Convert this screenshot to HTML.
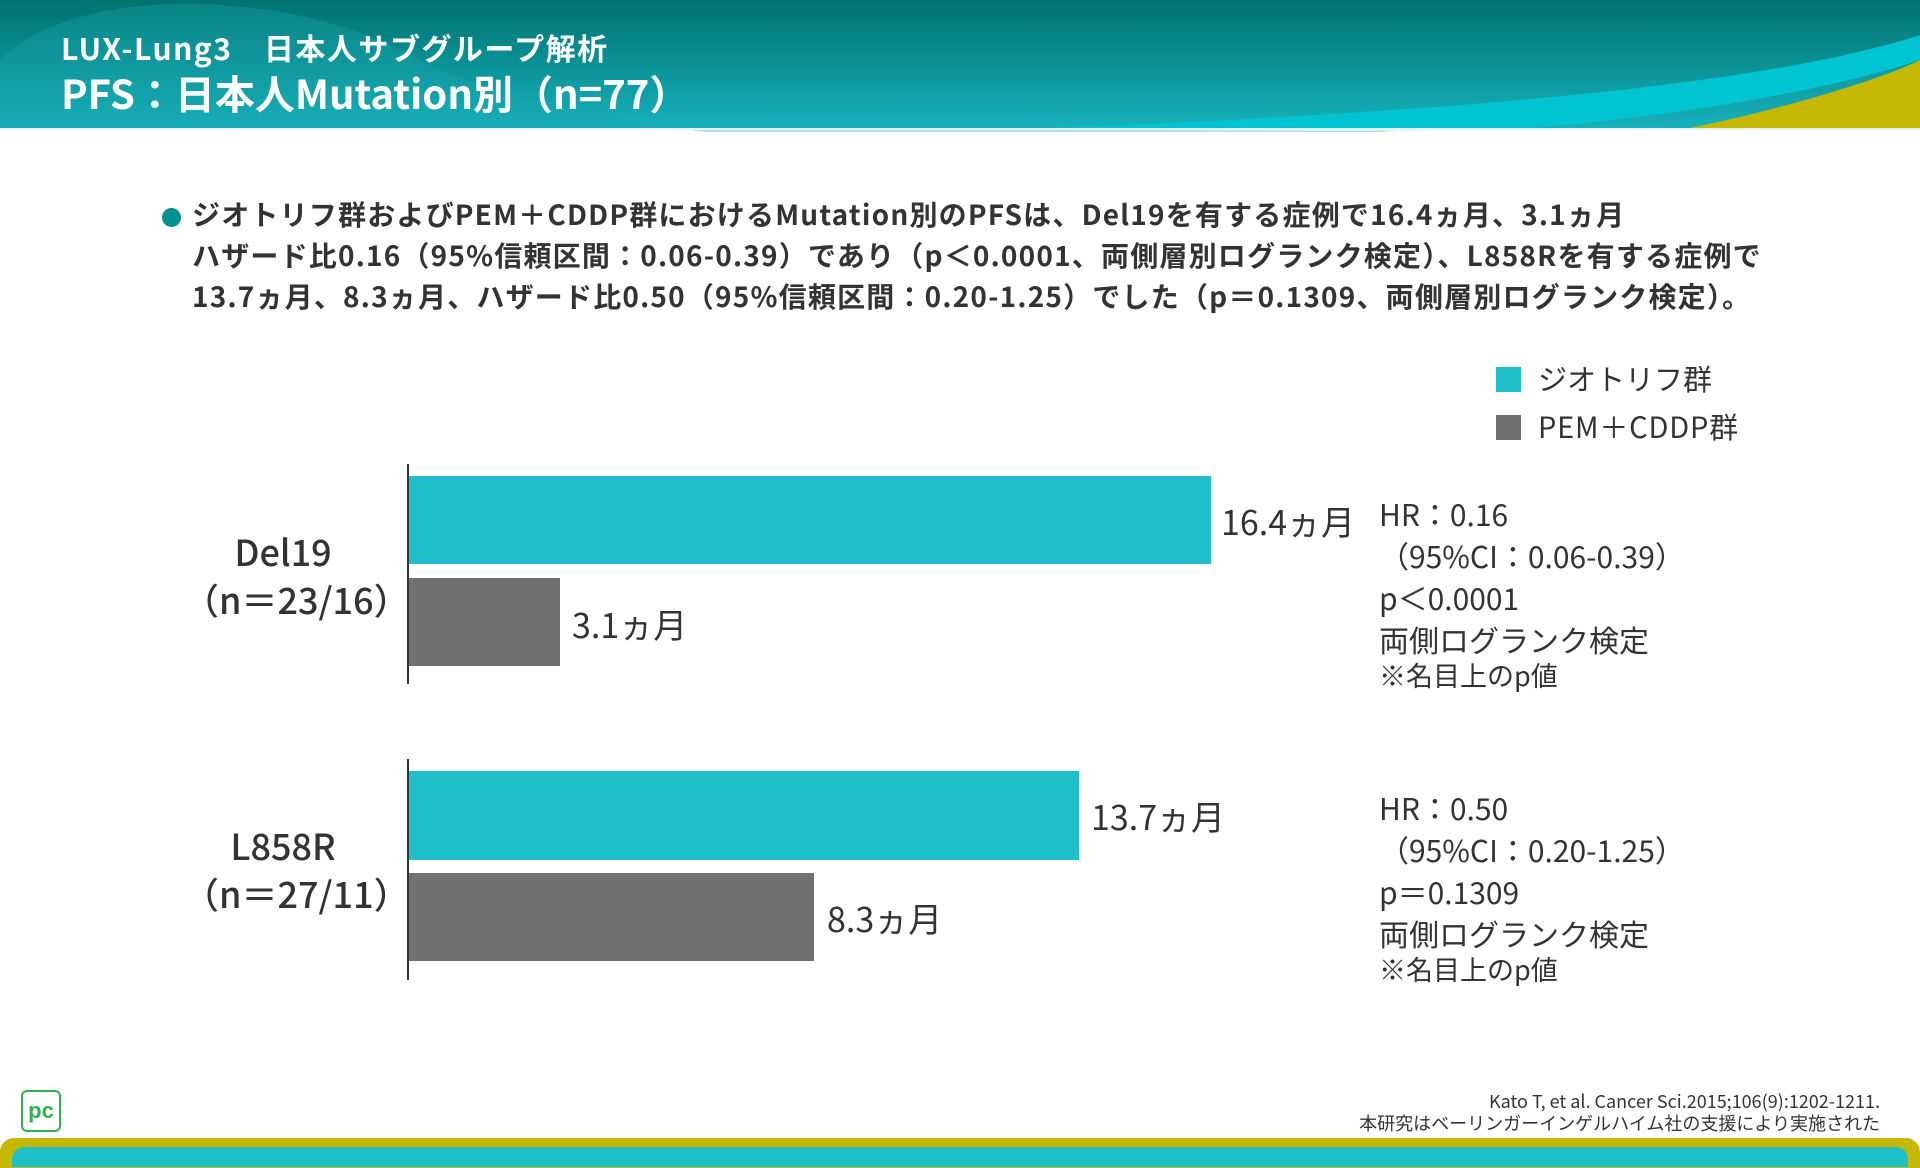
<!DOCTYPE html>
<html><head><meta charset="utf-8"><style>
body{margin:0;width:1920px;height:1160px;position:relative;overflow:hidden;background:#fff;font-family:"Noto Sans CJK JP","Liberation Sans",sans-serif;color:#333}
.a{position:absolute;white-space:nowrap;line-height:1}
.b{font-weight:bold}
</style></head><body>
<svg class="a" style="left:0;top:0" width="1920" height="132">
<defs><linearGradient id="g" x1="0" y1="0" x2="0" y2="1"><stop offset="0" stop-color="#00726f"/><stop offset="1" stop-color="#17b2bd"/></linearGradient></defs>
<rect width="1920" height="130" fill="url(#g)"/>
<path d="M0,60 C80,-20 300,-10 420,60 C700,200 1500,160 1920,40 L1920,70 C1700,140 1500,130 1100,130 L0,130Z" fill="#1aa6b0" opacity="0.35"/>
<path d="M1000,130 C1400,115 1750,90 1920,35 L1920,60 C1800,100 1600,125 1500,130Z" fill="#00c4d2"/>
<path d="M1680,130 C1780,110 1880,80 1920,60 L1920,130Z" fill="#c4b800"/>
<rect y="128" width="1920" height="2" fill="#e6f3f3"/>
</svg>
<div class="a b" style="left:61px;top:32px;font-size:30px;letter-spacing:1.5px;color:#fff">LUX-Lung3　日本人サブグループ解析</div>
<div class="a b" style="left:61px;top:72px;font-size:40px;color:#fff">PFS：日本人Mutation別（n=77）</div>

<div class="a" style="left:162px;top:208px;width:19px;height:19px;border-radius:50%;background:#00908f"></div>
<div class="a b" style="left:192px;top:194px;font-size:28px;letter-spacing:1.2px;line-height:41px">ジオトリフ群およびPEM＋CDDP群におけるMutation別のPFSは、Del19を有する症例で16.4ヵ月、3.1ヵ月<br>ハザード比0.16（95%信頼区間：0.06-0.39）であり（p＜0.0001、両側層別ログランク検定）、L858Rを有する症例で<br>13.7ヵ月、8.3ヵ月、ハザード比0.50（95%信頼区間：0.20-1.25）でした（p＝0.1309、両側層別ログランク検定）。</div>

<div class="a" style="left:1496px;top:367px;width:25px;height:25px;background:#1fbfca"></div>
<div class="a" style="left:1538px;top:364px;font-size:29px">ジオトリフ群</div>
<div class="a" style="left:1496px;top:415px;width:25px;height:25px;background:#717171"></div>
<div class="a" style="left:1538px;top:412px;font-size:29px;letter-spacing:0.8px">PEM＋CDDP群</div>

<div class="a" style="left:407px;top:464px;width:2px;height:220px;background:#333"></div>
<div class="a" style="left:407px;top:759px;width:2px;height:221px;background:#333"></div>
<div class="a" style="left:409px;top:476px;width:802px;height:88px;background:#1fbfca"></div>
<div class="a" style="left:409px;top:578px;width:151px;height:88px;background:#717171"></div>
<div class="a" style="left:409px;top:771px;width:670px;height:89px;background:#1fbfca"></div>
<div class="a" style="left:409px;top:873px;width:405px;height:88px;background:#717171"></div>

<div class="a" style="left:1221px;top:504px;font-size:34px">16.4ヵ月</div>
<div class="a" style="left:572px;top:607px;font-size:34px">3.1ヵ月</div>
<div class="a" style="left:1091px;top:799px;font-size:34px">13.7ヵ月</div>
<div class="a" style="left:827px;top:901px;font-size:34px">8.3ヵ月</div>

<div class="a" style="left:183px;width:200px;text-align:center;top:533px;font-size:36px;font-weight:500">Del19</div>
<div class="a" style="left:183px;width:200px;text-align:center;top:581px;font-size:36px;font-weight:500">（n＝23/16）</div>
<div class="a" style="left:183px;width:200px;text-align:center;top:827px;font-size:36px;font-weight:500">L858R</div>
<div class="a" style="left:183px;width:200px;text-align:center;top:875px;font-size:36px;font-weight:500">（n＝27/11）</div>

<div class="a" style="left:1379px;top:492px;font-size:30px;line-height:42px">HR：0.16<br>（95%CI：0.06-0.39）<br>p＜0.0001<br>両側ログランク検定</div>
<div class="a" style="left:1379px;top:661px;font-size:27px">※名目上のp値</div>
<div class="a" style="left:1379px;top:786px;font-size:30px;line-height:42px">HR：0.50<br>（95%CI：0.20-1.25）<br>p＝0.1309<br>両側ログランク検定</div>
<div class="a" style="left:1379px;top:955px;font-size:27px">※名目上のp値</div>

<div class="a" style="left:21px;top:1090px;width:36px;height:38px;border:2px solid #2db34a;border-radius:6px;color:#2db34a;font-weight:bold;font-size:22px;text-align:center;line-height:38px;font-family:'Liberation Sans',sans-serif">pc</div>
<div class="a" style="right:40px;top:1090px;font-size:18px;text-align:right;line-height:22px">Kato T, et al. Cancer Sci.2015;106(9):1202-1211.<br>本研究はベーリンガーインゲルハイム社の支援により実施された</div>

<div class="a" style="left:0;top:1138px;width:1920px;height:30px;background:#c4b800;border-radius:14px 14px 0 0"></div>
<div class="a" style="left:12px;top:1147px;width:1896px;height:20px;background:#1fbfca;border-radius:12px 12px 0 0"></div>
</body></html>
